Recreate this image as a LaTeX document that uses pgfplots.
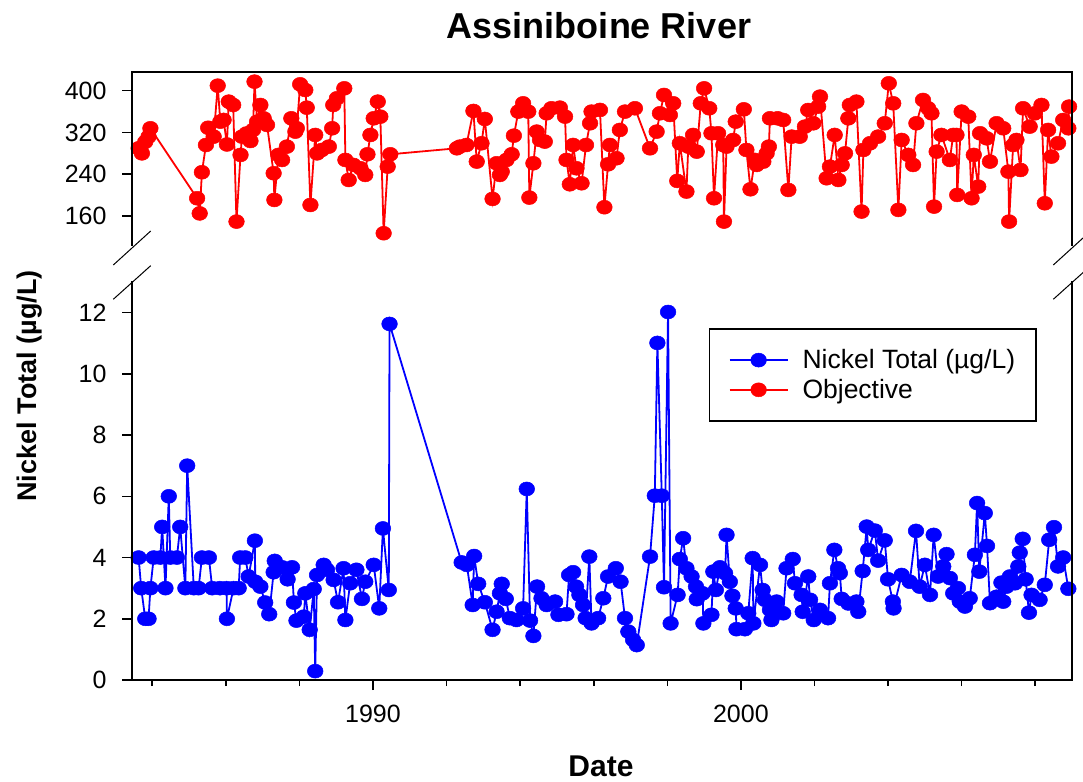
\documentclass[border=0pt]{standalone}
\usepackage{fontspec}
\setmainfont{Liberation Sans}
\usepackage{pgfplots}
\pgfplotsset{compat=1.18}
\definecolor{nblue}{RGB}{0,0,255}
\definecolor{nred}{RGB}{255,0,0}
\begin{document}
\begin{tikzpicture}
\useasboundingbox (-132pt,-101pt) rectangle (951pt,680pt);
\pgfplotsset{
  common/.style={
    scale only axis, width=940pt,
    xmin=1983.45, xmax=2009.0,
    axis line style={draw=none},
    tick align=outside,
    major tick length=10pt, minor tick length=6pt,
    tick style={line width=1.6pt, black},
    ytick pos=left,
    /pgf/number format/assume math mode=true,
    /pgf/number format/1000 sep={},
    tick label style={font=\fontsize{25}{30}\selectfont},
    yticklabel style={xshift=-12pt},
    xticklabel style={yshift=-12pt},
    clip=false,
  }
}
% bottom axis: nickel
\begin{axis}[common, name=bot, at={(0pt,0pt)}, anchor=south west,
  height=398pt, ymin=0, ymax=13,
  ytick={0,2,4,6,8,10,12},
  xtick={1990,2000},
  minor xtick={1984,1986,1988,1992,1994,1996,1998,2002,2004,2006,2008},
  xtick pos=bottom,
  legend style={at={(axis description cs:0.6138,0.8844)}, anchor=north west,
    draw=black, line width=1.5pt, fill=white,
    inner xsep=19pt, inner ysep=19pt,
    font=\fontsize{26.5}{30}\selectfont,
    row sep=5pt,
    /tikz/every odd column/.append style={column sep=12pt}},
  legend cell align=left,
  legend image code/.code={\draw[mark repeat=2,mark phase=2] plot coordinates {(0pt,0pt) (29pt,0pt) (58pt,0pt)};},
]
\addplot[color=nblue, line width=1.8pt, mark=*, mark size=7pt, mark options={xscale=1.12, fill=nblue, draw=nblue, line width=0.5pt}] coordinates {
(1983.63,4.0) (1983.70,3.0) (1983.81,2.0) (1983.90,2.0) (1983.95,3.0)
(1984.04,4.0) (1984.22,4.0) (1984.27,5.0) (1984.36,3.0) (1984.45,6.0)
(1984.49,4.0) (1984.67,4.0) (1984.76,5.0) (1984.90,3.0) (1984.95,7.0)
(1985.13,3.0) (1985.26,3.0) (1985.35,4.0) (1985.54,4.0) (1985.63,3.0)
(1985.84,3.0) (1986.02,3.0) (1986.03,2.0) (1986.21,3.0) (1986.35,3.0)
(1986.39,4.0) (1986.53,4.0) (1986.62,3.38) (1986.79,4.55) (1986.80,3.21)
(1986.94,3.05) (1987.07,2.53) (1987.18,2.15) (1987.30,3.52) (1987.33,3.89)
(1987.53,3.68) (1987.68,3.29) (1987.80,3.68) (1987.85,2.53) (1987.92,1.94)
(1988.12,2.07) (1988.16,2.83) (1988.28,1.64) (1988.39,2.97) (1988.43,0.29)
(1988.48,3.43) (1988.66,3.76) (1988.75,3.6) (1988.93,3.27) (1989.05,2.54)
(1989.20,3.65) (1989.25,1.96) (1989.38,3.16) (1989.55,3.6) (1989.70,2.65)
(1989.79,3.21) (1990.02,3.76) (1990.17,2.34) (1990.27,4.95) (1990.43,2.94)
(1990.45,11.63)
(1992.41,3.84) (1992.55,3.76) (1992.71,2.45) (1992.75,4.05) (1992.86,3.14)
(1993.04,2.54) (1993.25,1.64) (1993.36,2.23) (1993.45,2.83) (1993.50,3.14)
(1993.61,2.65) (1993.72,2.02) (1993.90,1.96) (1994.08,2.34) (1994.18,6.24)
(1994.27,1.94) (1994.36,1.44) (1994.46,3.05) (1994.58,2.67) (1994.72,2.45)
(1994.95,2.56) (1995.04,2.13) (1995.26,2.15) (1995.33,3.43) (1995.44,3.52)
(1995.52,3.05) (1995.61,2.78) (1995.71,2.45) (1995.78,2.02) (1995.88,4.03)
(1995.94,1.85) (1996.12,2.02) (1996.26,2.67) (1996.39,3.38) (1996.60,3.65)
(1996.73,3.21) (1996.85,2.02) (1996.94,1.58) (1997.07,1.31) (1997.17,1.14)
(1997.53,4.03) (1997.66,6.02) (1997.73,11.01) (1997.85,6.02) (1997.91,3.03)
(1998.02,12.02) (1998.09,1.85) (1998.28,2.78) (1998.34,3.95) (1998.43,4.63)
(1998.52,3.65) (1998.66,3.38) (1998.78,3.05) (1998.80,2.64) (1998.96,2.83)
(1998.98,1.85) (1999.20,2.13) (1999.25,3.54) (1999.32,2.94) (1999.43,3.68)
(1999.57,3.49) (1999.61,4.74) (1999.70,3.21) (1999.77,2.75) (1999.86,2.34)
(1999.88,1.66) (2000.11,1.66) (2000.20,2.18) (2000.32,3.98) (2000.34,1.85)
(2000.52,3.76) (2000.59,2.94) (2000.65,2.62) (2000.79,2.29) (2000.83,1.96)
(2000.97,2.56) (2001.15,2.18) (2001.24,3.65) (2001.41,3.95) (2001.47,3.16)
(2001.65,2.78) (2001.68,2.23) (2001.83,3.38) (2001.88,2.62) (2001.98,1.96)
(2002.15,2.29) (2002.37,2.02) (2002.42,3.16) (2002.54,4.25) (2002.64,3.65)
(2002.69,3.49) (2002.74,2.65) (2002.92,2.5) (2003.14,2.56) (2003.19,2.23)
(2003.31,3.56) (2003.42,5.01) (2003.46,4.25) (2003.64,4.88) (2003.73,3.9)
(2003.91,4.56) (2004.00,3.29) (2004.13,2.56) (2004.15,2.34) (2004.37,3.43)
(2004.59,3.21) (2004.76,4.87) (2004.86,3.05) (2005.00,3.76) (2005.14,2.78)
(2005.24,4.74) (2005.36,3.38) (2005.50,3.71) (2005.59,4.11) (2005.68,3.33)
(2005.77,2.83) (2005.90,3.0) (2005.95,2.56) (2006.09,2.4) (2006.22,2.67)
(2006.36,4.09) (2006.42,5.78) (2006.48,3.54) (2006.63,5.45) (2006.69,4.38)
(2006.77,2.51) (2006.95,2.72) (2007.08,3.18) (2007.13,2.56) (2007.22,3.05)
(2007.31,3.38) (2007.45,3.16) (2007.54,3.71) (2007.58,4.16) (2007.66,4.61)
(2007.74,3.29) (2007.83,2.2) (2007.90,2.78) (2008.12,2.62) (2008.26,3.11)
(2008.38,4.58) (2008.51,4.99) (2008.62,3.71) (2008.76,4.0) (2008.90,2.98)
};
\addlegendentry{Nickel Total (µg/L)}
\addlegendimage{color=nred, line width=1.8pt, mark=*, mark size=7pt, mark options={xscale=1.12, fill=nred, draw=nred, line width=0.5pt}}
\addlegendentry{Objective}
\end{axis}
% top axis: objective
\begin{axis}[common, name=top, at={(0pt,435pt)}, anchor=south west,
  height=173pt, ymin=104.5, ymax=435.8,
  ytick={160,240,320,400},
  xtick=\empty,
]
\addplot[color=nred, line width=1.8pt, mark=*, mark size=7pt, mark options={xscale=1.12, fill=nred, draw=nred, line width=0.5pt}] coordinates {
(1983.63,289.7) (1983.72,280) (1983.81,302) (1983.90,312) (1983.95,328)
(1985.22,194) (1985.29,165) (1985.35,243.8) (1985.46,296) (1985.52,329)
(1985.67,312) (1985.78,409.6) (1985.85,340.7) (1985.94,344) (1986.03,297)
(1986.08,379) (1986.20,372.6) (1986.29,149.3) (1986.40,277) (1986.44,312)
(1986.56,318) (1986.67,303.7) (1986.74,324.8) (1986.78,417.3) (1986.85,340.7)
(1986.94,372.6) (1987.03,347) (1987.12,334.4) (1987.30,241.9) (1987.32,190.8)
(1987.43,277) (1987.53,267.4) (1987.66,292.9) (1987.78,347.1) (1987.89,321.6)
(1987.93,328) (1988.02,412.2) (1988.16,401.3) (1988.20,367.5) (1988.30,181.2)
(1988.43,315.2) (1988.48,280) (1988.61,286.5) (1988.80,292.9) (1988.89,328)
(1988.92,372.6) (1989.02,385.4) (1989.22,404.5) (1989.25,267.4) (1989.34,229)
(1989.47,257.8) (1989.66,251.4) (1989.79,238.7) (1989.85,278.2) (1989.93,315.2)
(1990.02,347.1) (1990.13,379) (1990.20,350.3) (1990.29,127) (1990.40,254.6)
(1990.47,278.2)
(1992.28,289.7) (1992.36,292.9) (1992.54,296) (1992.73,361.2) (1992.82,264.2)
(1992.95,299.3) (1993.04,345.8) (1993.25,192.7) (1993.36,261) (1993.45,238.7)
(1993.50,245) (1993.63,267.4) (1993.77,278.2) (1993.83,313.9) (1993.95,359.9)
(1994.08,375.8) (1994.22,359.9) (1994.25,195.3) (1994.36,261) (1994.45,321.6)
(1994.54,305.6) (1994.67,302.5) (1994.72,356.7) (1994.85,366.3) (1995.08,367.5)
(1995.22,350.3) (1995.26,267.4) (1995.35,220.8) (1995.44,296) (1995.53,251.4)
(1995.67,222.7) (1995.79,296) (1995.90,337.6) (1995.94,359.9) (1996.17,363.1)
(1996.29,176.8) (1996.39,259) (1996.44,296) (1996.62,270.6) (1996.71,324.8)
(1996.85,359.9) (1997.12,366.3) (1997.53,289.7) (1997.71,321.6) (1997.80,356.7)
(1997.91,391.8) (1998.07,353.5) (1998.16,375.8) (1998.27,227.2) (1998.34,299.3)
(1998.52,206.8) (1998.57,292.9) (1998.70,315.2) (1998.80,283.3) (1998.91,375.8)
(1999.00,404.5) (1999.14,366.3) (1999.20,318.4) (1999.27,194) (1999.38,318.4)
(1999.52,296) (1999.54,149.3) (1999.61,292.9) (1999.79,305.6) (1999.86,340.7)
(2000.08,364.3) (2000.15,286.5) (2000.26,211.2) (2000.38,267.4) (2000.43,257.8)
(2000.61,264.2) (2000.70,280) (2000.76,292.9) (2000.79,347.1) (2001.00,347.1)
(2001.15,343.9) (2001.29,209.9) (2001.38,312) (2001.60,312) (2001.74,331.2)
(2001.83,363) (2001.97,337.6) (2002.10,369.5) (2002.15,388.6) (2002.33,232.3)
(2002.42,254.6) (2002.55,315.2) (2002.65,229) (2002.74,257.8) (2002.83,280)
(2002.92,347.1) (2002.96,372.6) (2003.14,379) (2003.28,168.5) (2003.33,286.5)
(2003.51,299.3) (2003.73,312) (2003.91,337.6) (2004.02,414.1) (2004.14,375.8)
(2004.28,171.7) (2004.37,305.6) (2004.55,277) (2004.68,257.8) (2004.77,337.6)
(2004.95,382.2) (2005.09,366.3) (2005.18,356.7) (2005.25,178) (2005.32,283.3)
(2005.45,315.2) (2005.68,267.4) (2005.77,315.2) (2005.86,315.2) (2005.88,200.4)
(2006.00,359.9) (2006.18,350.3) (2006.27,194) (2006.33,277) (2006.45,216.3)
(2006.50,318.4) (2006.68,308.8) (2006.77,264.2) (2006.95,337.6) (2007.13,328)
(2007.27,245) (2007.29,149.3) (2007.40,296) (2007.49,305.6) (2007.60,248.2)
(2007.67,366.3) (2007.85,331.2) (2007.99,356.7) (2008.17,372.6) (2008.26,184.4)
(2008.35,324.8) (2008.44,273.8) (2008.62,299.3) (2008.76,343.9) (2008.90,328)
(2008.92,369.5)
};
\end{axis}
% frame lines
\draw[line width=2pt, line cap=rect] (bot.north west) -- (bot.south west) -- (bot.south east) -- (bot.north east);
\draw[line width=2pt, line cap=rect] (top.south west) -- (top.north west) -- (top.north east) -- (top.south east);
% break marks
\draw[line width=1pt] (-18.7pt,415pt) -- (18.7pt,449pt);
\draw[line width=1pt] (-18.7pt,380.7pt) -- (18.7pt,414.3pt);
\draw[line width=1pt] (921.3pt,415pt) -- (958.7pt,449pt);
\draw[line width=1pt] (921.3pt,380.7pt) -- (958.7pt,414.3pt);
% titles
\node[font=\bfseries\fontsize{36}{42}\selectfont] at (467pt,654pt) {Assiniboine River};
\node[font=\bfseries\fontsize{30}{36}\selectfont] at (469pt,-86pt) {Date};
\node[rotate=90, font=\bfseries\fontsize{27}{32}\selectfont] at (-102pt,294pt) {Nickel Total (µg/L)};
\end{tikzpicture}
\end{document}
